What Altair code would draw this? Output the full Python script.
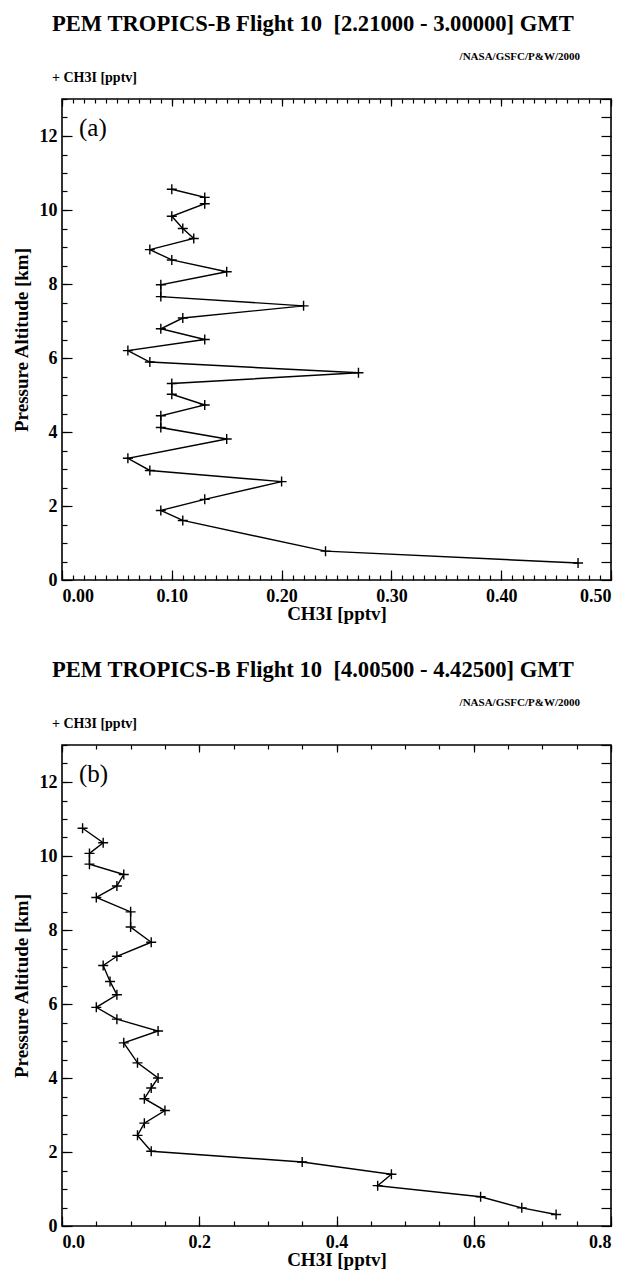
import altair as alt
import pandas as pd

SERIF = "'Liberation Serif', 'Times New Roman', serif"
W, H = 549, 481

# ---- data ----
a_ch3i = [0.10, 0.13, 0.13, 0.10, 0.11, 0.12, 0.08, 0.10, 0.15, 0.09,
          0.09, 0.22, 0.11, 0.09, 0.13, 0.06, 0.08, 0.27, 0.10, 0.10,
          0.13, 0.09, 0.09, 0.15, 0.06, 0.08, 0.20, 0.13, 0.09, 0.11,
          0.24, 0.47]
a_alt = [10.56, 10.34, 10.17, 9.83, 9.50, 9.23, 8.93, 8.65, 8.33, 7.98,
         7.66, 7.41, 7.08, 6.79, 6.50, 6.20, 5.89, 5.60, 5.31, 5.02,
         4.73, 4.44, 4.12, 3.81, 3.29, 2.96, 2.66, 2.18, 1.88, 1.61,
         0.78, 0.46]

b_ch3i = [0.03, 0.06, 0.04, 0.04, 0.09, 0.08, 0.05, 0.10, 0.10, 0.13,
          0.08, 0.06, 0.07, 0.08, 0.05, 0.08, 0.14, 0.09, 0.11, 0.14,
          0.13, 0.12, 0.15, 0.12, 0.11, 0.13, 0.35, 0.48, 0.46, 0.61,
          0.67, 0.72]
b_alt = [10.75, 10.36, 10.07, 9.78, 9.50, 9.19, 8.88, 8.49, 8.08, 7.67,
         7.29, 7.04, 6.61, 6.25, 5.91, 5.59, 5.27, 4.95, 4.41, 4.00,
         3.73, 3.44, 3.12, 2.78, 2.45, 2.02, 1.73, 1.40, 1.09, 0.79,
         0.49, 0.31]

# ---- tick labels ----
y_major = [0, 2, 4, 6, 8, 10, 12]
y_minor = [0, 0.5, 1, 1.5, 2, 2.5, 3, 3.5, 4, 4.5, 5, 5.5, 6, 6.5, 7, 7.5,
           8, 8.5, 9, 9.5, 10, 10.5, 11, 11.5, 12, 12.5, 13]
a_x_major = [0.0, 0.1, 0.2, 0.3, 0.4, 0.5]
a_x_minor = [round(i * 0.01, 2) for i in range(51)]
b_x_major = [0.0, 0.2, 0.4, 0.6, 0.8]
b_x_minor = [round(i * 0.05, 2) for i in range(17)]

titles = ["PEM TROPICS-B Flight 10\u00a0 [2.21000 - 3.00000] GMT",
          "PEM TROPICS-B Flight 10\u00a0 [4.00500 - 4.42500] GMT"]
credit = "/NASA/GSFC/P&W/2000"
legend_txt = "+ CH3I [pptv]"
panel_labels = ["(a)", "(b)"]


def tick_axis(orient, offset, values, size):
    return alt.Axis(orient=orient, offset=offset, values=values, labels=False,
                    ticks=True, tickSize=size, tickWidth=1.2, tickColor="black",
                    domain=False, grid=False, title=None)


def panel(ch3i, alt_km, xmax, xmajor, xminor, xfmt, title, label):
    df = pd.DataFrame({"i": list(range(len(ch3i))), "ch3i": ch3i, "alt": alt_km})
    xs = alt.Scale(domain=[0, xmax], nice=False, zero=False)
    ys = alt.Scale(domain=[0, 13], nice=False, zero=False)
    base = alt.Chart(df)

    line = base.mark_line(color="black", strokeWidth=1.4).encode(
        x=alt.X("ch3i:Q", scale=xs, axis=alt.Axis(
            orient="bottom", values=xmajor, format=xfmt, ticks=False,
            domain=False, grid=False, title="CH3I [pptv]",
            labelPadding=7, titlePadding=-1)),
        y=alt.Y("alt:Q", scale=ys, axis=alt.Axis(
            orient="left", values=y_major, format="d", ticks=False,
            domain=False, grid=False, title="Pressure Altitude [km]",
            labelPadding=5, titlePadding=8)),
        order="i:Q",
    )
    pts = base.mark_point(shape="M-1,0L1,0M0,-1L0,1", size=100, filled=False,
                          color="black", strokeWidth=1.4, opacity=1).encode(
        x=alt.X("ch3i:Q", scale=xs, axis=None),
        y=alt.Y("alt:Q", scale=ys, axis=None),
    )
    t1 = base.mark_point(opacity=0).encode(
        x=alt.X("ch3i:Q", scale=xs, axis=tick_axis("top", -H, xmajor, 10)),
        y=alt.Y("alt:Q", scale=ys, axis=tick_axis("right", -W, y_major, 10)),
    )
    t2 = base.mark_point(opacity=0).encode(
        x=alt.X("ch3i:Q", scale=xs, axis=tick_axis("top", -H, xminor, 5)),
        y=alt.Y("alt:Q", scale=ys, axis=tick_axis("right", -W, y_minor, 5)),
    )
    t3 = base.mark_point(opacity=0).encode(
        x=alt.X("ch3i:Q", scale=xs, axis=tick_axis("bottom", -H, xmajor, 7)),
        y=alt.Y("alt:Q", scale=ys, axis=tick_axis("left", -W, y_minor, 10)),
    )
    t4 = base.mark_point(opacity=0).encode(
        x=alt.X("ch3i:Q", scale=xs, axis=tick_axis("bottom", -H, xminor, 4)),
        y=alt.Y("alt:Q", scale=ys, axis=None),
    )
    credit_t = alt.Chart(pd.DataFrame({"t": [credit]})).mark_text(
        font=SERIF, fontSize=11, fontWeight="bold", align="right",
        baseline="middle", color="black").encode(
        x=alt.value(W - 31), y=alt.value(-42), text="t:N")
    leg_t = alt.Chart(pd.DataFrame({"t": [legend_txt]})).mark_text(
        font=SERIF, fontSize=14, fontWeight="bold", align="left",
        baseline="middle", color="black").encode(
        x=alt.value(-10), y=alt.value(-21), text="t:N")
    lab_t = alt.Chart(pd.DataFrame({"t": [label]})).mark_text(
        font=SERIF, fontSize=25, align="left", baseline="middle",
        color="black").encode(
        x=alt.value(17), y=alt.value(29), text="t:N")

    return alt.layer(line, pts, t1, t2, t3, t4, credit_t, leg_t, lab_t).resolve_axis(
        x="independent", y="independent").properties(
        width=W, height=H,
        title=alt.TitleParams(title, anchor="start", frame="group", dx=-10,
                              offset=15))


pa = panel(a_ch3i, a_alt, 0.5, a_x_major, a_x_minor, ".2f", titles[0], panel_labels[0])
pb = panel(b_ch3i, b_alt, 0.8, b_x_major, b_x_minor, ".1f", titles[1], panel_labels[1])

chart = alt.vconcat(pa, pb, spacing=34).properties(
    padding={"left": 11, "top": 12, "right": 10, "bottom": 5}
).configure_view(stroke="black", strokeWidth=1.6).configure_axis(
    labelFont=SERIF, labelFontWeight="bold", labelFontSize=18, labelColor="black",
    titleFont=SERIF, titleFontWeight="bold", titleFontSize=19, titleColor="black",
    grid=False,
).configure_title(font=SERIF, fontWeight="bold", fontSize=22.6, color="black")

chart.save("out.html", embed_options={"renderer": "svg", "actions": False})
